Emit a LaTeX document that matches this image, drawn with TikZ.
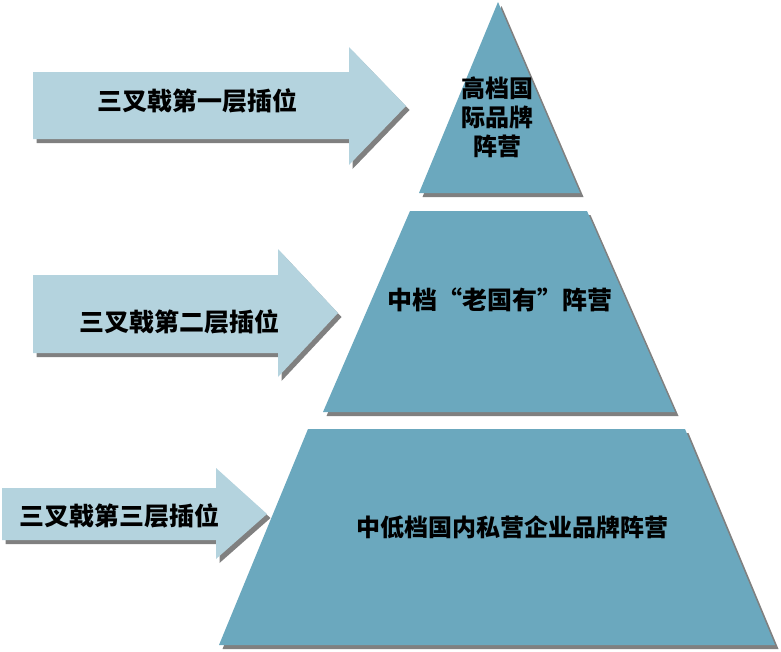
\documentclass[tikz,border=0pt]{standalone}
\usepackage{fontspec}
\newfontfamily\cjk{Noto Sans CJK SC}
\definecolor{arrowfill}{RGB}{180,211,222}
\definecolor{pyrfill}{RGB}{107,168,190}
\definecolor{shadowgray}{RGB}{128,128,128}
\tikzset{
  shadowshape/.style={fill=shadowgray, draw=none, shift={(3.5,4)}},
  arrowshape/.style={fill=arrowfill, draw=none},
  pyrshape/.style={fill=pyrfill, draw=none},
  lbl/.style={inner sep=0pt, font=\cjk\bfseries\fontsize{25}{29}\selectfont, text=black, align=center}
}
\begin{document}
\begin{tikzpicture}[x=1pt,y=-1pt]
\useasboundingbox (0,0) rectangle (781,651);
% pyramid
\def\toptri{(498,2) -- (580,193) -- (419,193) -- cycle}
\def\midtrap{(410,211) -- (587,211) -- (675,412) -- (323,412) -- cycle}
\def\bottrap{(308,429) -- (685,429) -- (775,645) -- (219,645) -- cycle}
\fill[shadowshape] \toptri;
\fill[pyrshape] \toptri;
\fill[shadowshape] \midtrap;
\fill[pyrshape] \midtrap;
\fill[shadowshape] \bottrap;
\fill[pyrshape] \bottrap;
% arrows
\def\arrA{(33,72) -- (349,72) -- (349,47) -- (406,106) -- (349,165) -- (349,139) -- (33,139) -- cycle}
\def\arrB{(33,275) -- (278,275) -- (278,249) -- (338,313) -- (278,377) -- (278,353) -- (33,353) -- cycle}
\def\arrC{(2,488) -- (216,488) -- (216,468) -- (267,514) -- (216,559) -- (216,540) -- (2,540) -- cycle}
\fill[shadowshape] \arrA;
\fill[arrowshape] \arrA;
\fill[shadowshape] \arrB;
\fill[arrowshape] \arrB;
\fill[shadowshape] \arrC;
\fill[arrowshape] \arrC;
% labels
\node[lbl] (a1) at (197.5,101) {三叉戟第一层插位};
\node[lbl] (a2) at (179.5,322) {三叉戟第二层插位};
\node[lbl] (a3) at (119.5,516) {三叉戟第三层插位};
\node[lbl, font=\cjk\bfseries\fontsize{24}{29}\selectfont] (p1) at (497,117) {高档国\\际品牌\\阵营};
\node[lbl] (p2) at (500,300) {中档“老国有”阵营};
\node[lbl, font=\cjk\bfseries\fontsize{24}{29}\selectfont] (p3) at (512,527) {中低档国内私营企业品牌阵营};
\end{tikzpicture}
\end{document}
